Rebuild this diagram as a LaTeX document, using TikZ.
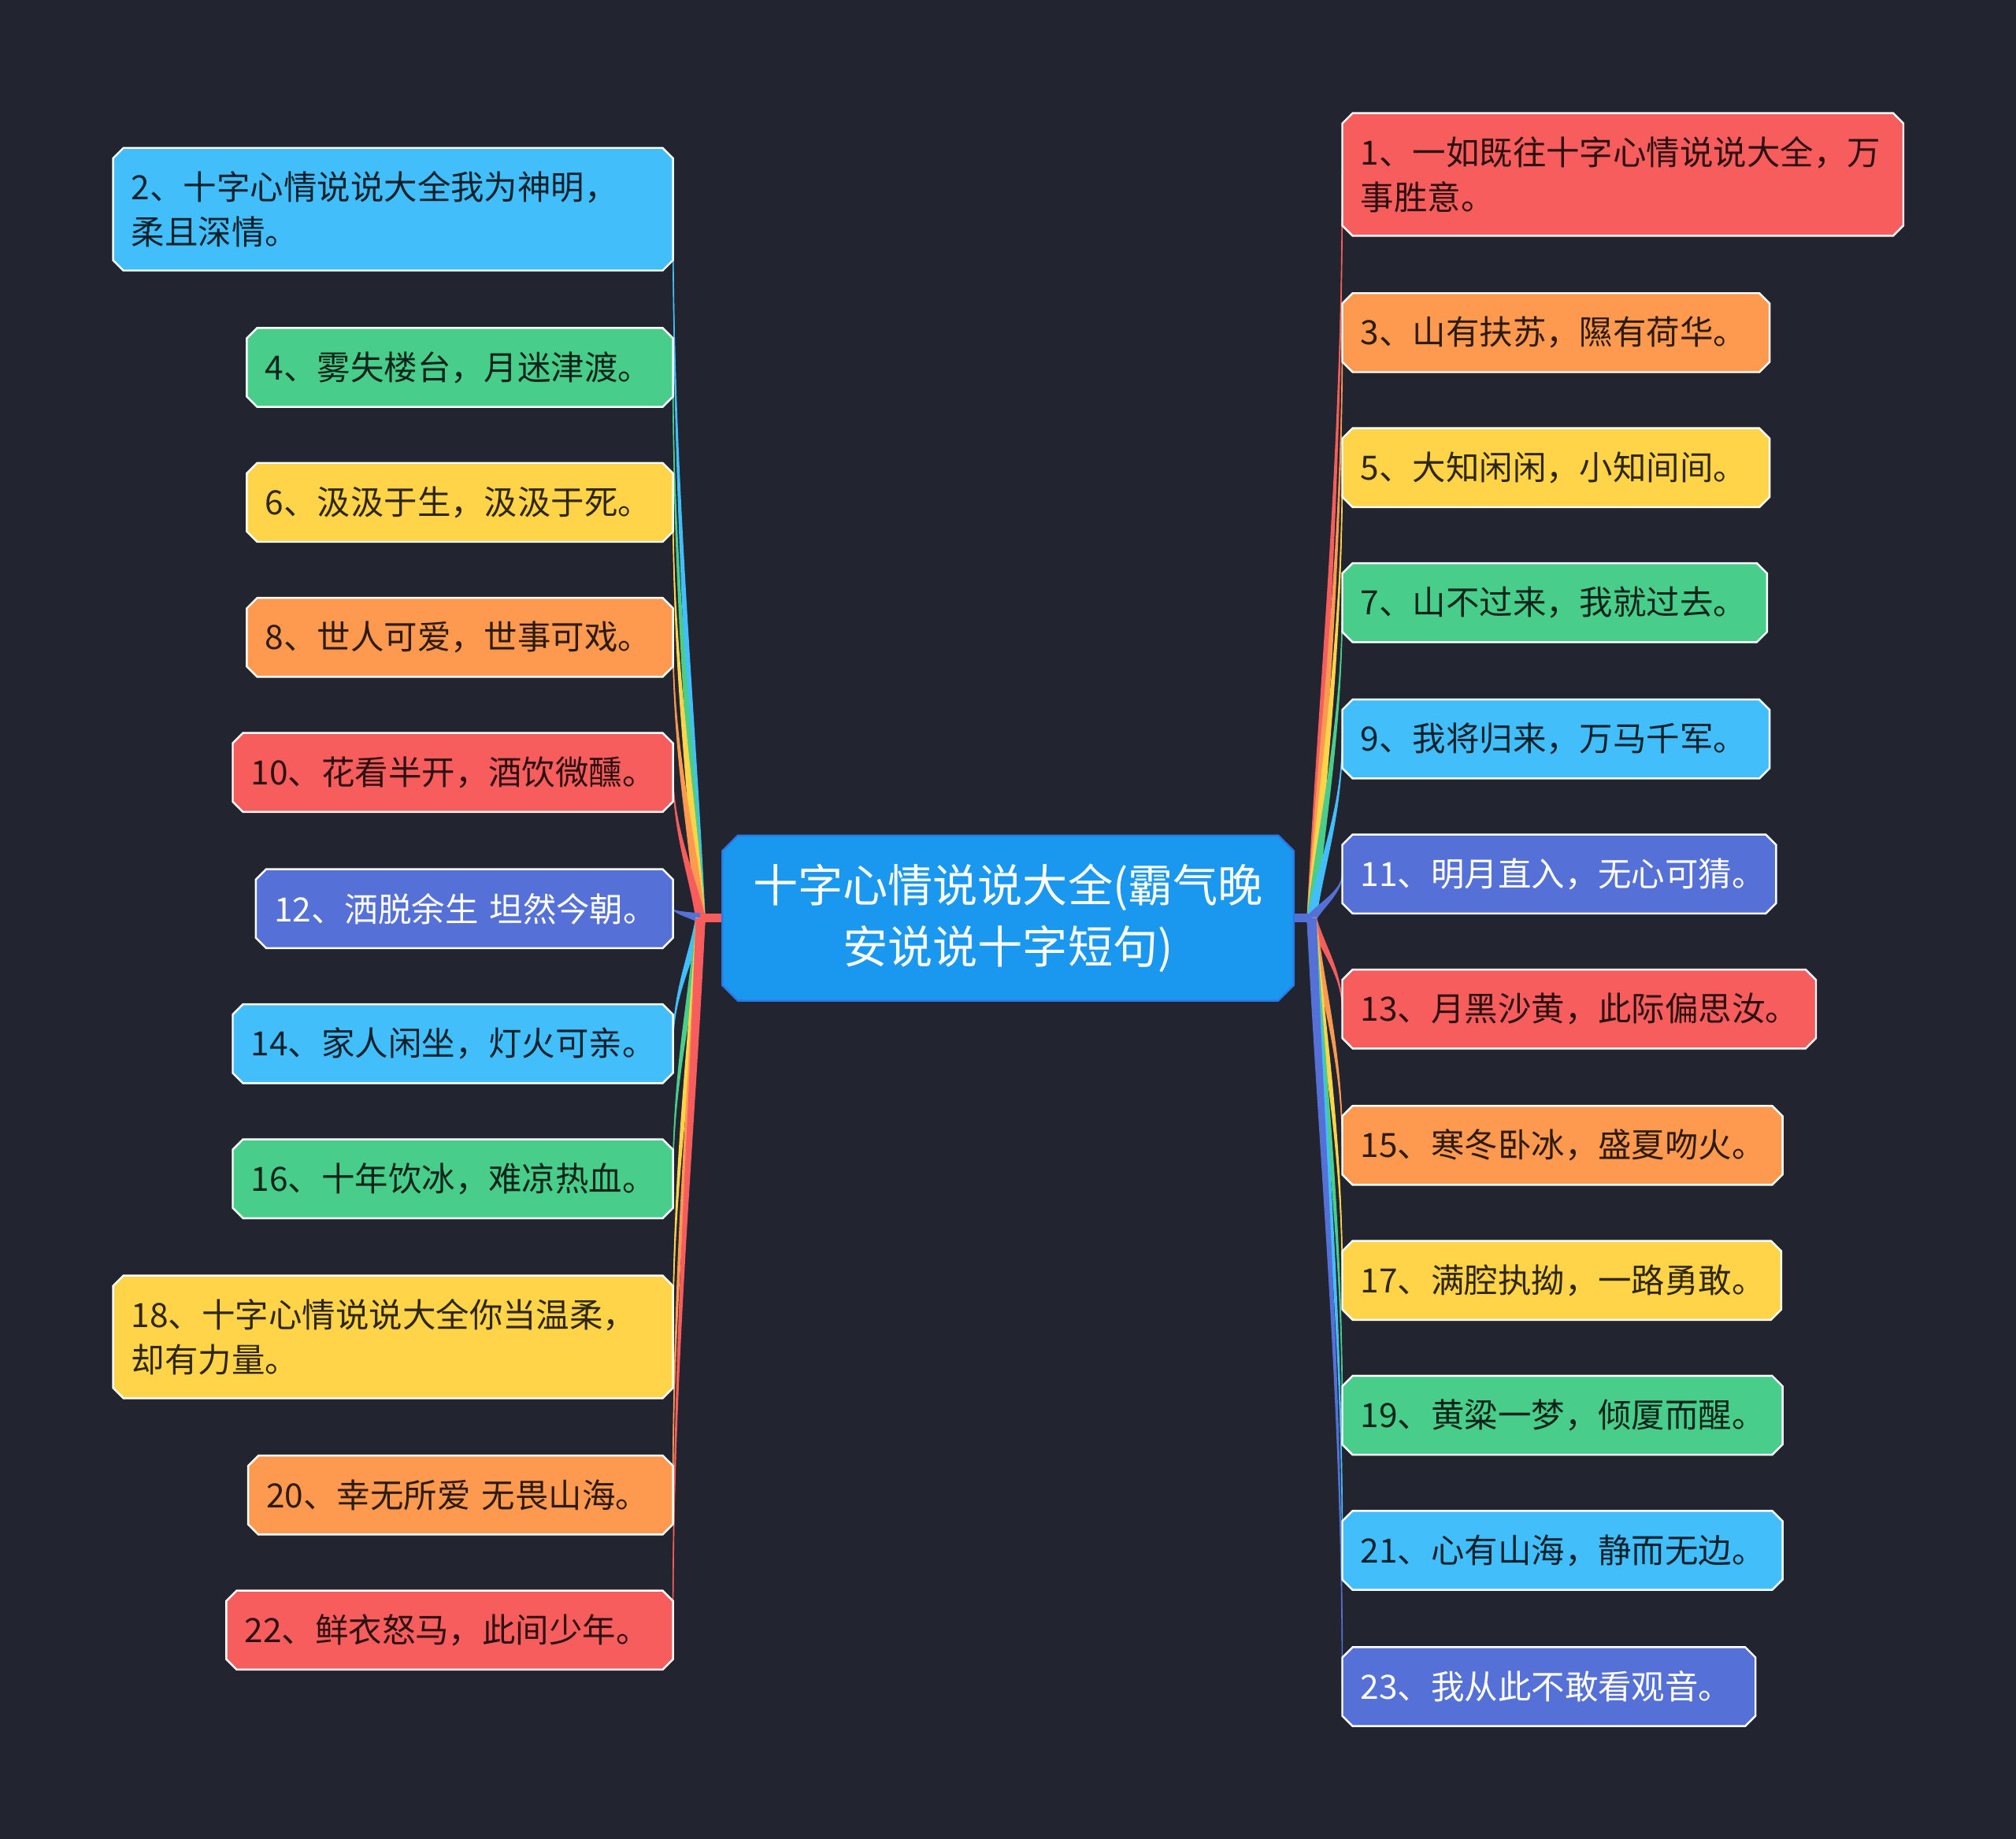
\documentclass[tikz,border=0pt]{standalone}
\usepackage{fontspec}
\setmainfont{Noto Sans CJK SC}
\usetikzlibrary{calc}
\definecolor{bgc}{HTML}{222530}
\definecolor{cred}{HTML}{F75D5D}
\definecolor{corange}{HTML}{FE9950}
\definecolor{cyellow}{HTML}{FFD449}
\definecolor{cgreen}{HTML}{48CD8B}
\definecolor{ccyan}{HTML}{42BFFA}
\definecolor{cindigo}{HTML}{5570D6}
\definecolor{cblue}{HTML}{1A98F0}
\definecolor{cborder}{HTML}{2A78E4}
\pgfdeclarelayer{bgfill}
\pgfdeclarelayer{lines}
\pgfdeclarelayer{boxes}
\pgfsetlayers{bgfill,lines,boxes,main}
\tikzset{
  leafnode/.style={rectangle, inner xsep=14pt, inner ysep=0pt, anchor=north west,
    align=left, text=black, text opacity=0.82,
    font=\fontsize{26pt}{35pt}\selectfont},
  lighttext/.style={text=white, text opacity=1},
  centernode/.style={rectangle, inner sep=0pt, minimum width=444pt, minimum height=128pt,
    align=center, text=white, font=\fontsize{35pt}{48pt}\selectfont}
}
\newcommand\octa[4]{%
  \begin{pgfonlayer}{boxes}
  \filldraw[fill=#2, draw=#3, line width=1.5pt]
    ($(#1.north west)+(#4,0pt)$) -- ($(#1.north east)+(-#4,0pt)$) --
    ($(#1.north east)+(0pt,-#4)$) -- ($(#1.south east)+(0pt,#4)$) --
    ($(#1.south east)+(-#4,0pt)$) -- ($(#1.south west)+(#4,0pt)$) --
    ($(#1.south west)+(0pt,#4)$) -- ($(#1.north west)+(0pt,-#4)$) -- cycle;
  \end{pgfonlayer}}
\newcommand\leaf[7][]{%
  \node[leafnode, minimum height=#4pt, text width=#5pt, #1] (#2) at (#3) {#7};
  \octa{#2}{#6}{white}{8pt}}
% tapered connector: #1 hub, #2 target anchor, #3 colour
\newcommand\linkto[3]{%
  \coordinate (lkA) at ($(#1)!0.3!(#2)$);
  \coordinate (lkB) at ($(#2)!0.4!(#2|-#1)$);
  \coordinate (lkP) at ($(#1)!3.8pt!90:(lkA)$);
  \coordinate (lkM) at ($(#1)!3.8pt!-90:(lkA)$);
  \coordinate (lkAP) at ($(lkA)+0.65*(lkP)-0.65*(#1)$);
  \coordinate (lkAM) at ($(lkA)+0.65*(lkM)-0.65*(#1)$);
  \coordinate (lkBP) at ($(lkB)+0.25*(lkP)-0.25*(#1)$);
  \coordinate (lkBM) at ($(lkB)+0.25*(lkM)-0.25*(#1)$);
  \fill[#3] (lkP) .. controls (lkAP) and (lkBP) .. (#2)
     .. controls (lkBM) and (lkAM) .. (lkM) -- cycle;
  \draw[#3, line width=1pt] (#1) .. controls (lkA) and (lkB) .. (#2);}
\begin{document}
\begin{tikzpicture}[x=1pt,y=-1pt]
\begin{pgfonlayer}{bgfill}
\fill[bgc] (0,0) rectangle (1568,1430);
\end{pgfonlayer}
\useasboundingbox (0,0) rectangle (1568,1430);

% center
\node[centernode] (c) at (784,714) {十字心情说说大全(霸气晚\\安说说十字短句)};
\octa{c}{cblue}{cborder}{12pt}

% left side
\leaf{n2}{88,115}{95}{407}{ccyan}{2、十字心情说说大全我为神明，\\柔且深情。}
\leaf{n4}{192,255}{61}{303}{cgreen}{4、雾失楼台，月迷津渡。}
\leaf{n6}{192,360}{61}{303}{cyellow}{6、汲汲于生，汲汲于死。}
\leaf{n8}{192,465}{61}{303}{corange}{8、世人可爱，世事可戏。}
\leaf{n10}{181,570}{61}{314}{cred}{10、花看半开，酒饮微醺。}
\leaf[lighttext]{n12}{199,676}{61}{296}{cindigo}{\mbox{12、洒脱余生 坦然今朝。}}
\leaf{n14}{181,781}{61}{314}{ccyan}{14、家人闲坐，灯火可亲。}
\leaf{n16}{181,886}{61}{314}{cgreen}{16、十年饮冰，难凉热血。}
\leaf{n18}{88,992}{95}{407}{cyellow}{18、十字心情说说大全你当温柔，\\却有力量。}
\leaf{n20}{193,1132}{61}{302}{corange}{\mbox{20、幸无所爱 无畏山海。}}
\leaf{n22}{176,1237}{61}{319}{cred}{22、鲜衣怒马，此间少年。}

% right side
\leaf{n1}{1044,88}{95}{408}{cred}{1、一如既往十字心情说说大全，万\\事胜意。}
\leaf{n3}{1044,228}{61}{304}{corange}{3、山有扶苏，隰有荷华。}
\leaf{n5}{1044,333}{61}{304}{cyellow}{5、大知闲闲，小知间间。}
\leaf{n7}{1044,438}{61}{302}{cgreen}{7、山不过来，我就过去。}
\leaf{n9}{1044,544}{61}{304}{ccyan}{9、我将归来，万马千军。}
\leaf[lighttext]{n11}{1044,649}{61}{309}{cindigo}{11、明月直入，无心可猜。}
\leaf{n13}{1044,754}{61}{340}{cred}{13、月黑沙黄，此际偏思汝。}
\leaf{n15}{1044,860}{61}{314}{corange}{15、寒冬卧冰，盛夏吻火。}
\leaf{n17}{1044,965}{61}{313}{cyellow}{17、满腔执拗，一路勇敢。}
\leaf{n19}{1044,1070}{61}{314}{cgreen}{19、黄粱一梦，倾厦而醒。}
\leaf{n21}{1044,1175}{61}{314}{ccyan}{21、心有山海，静而无边。}
\leaf[lighttext]{n23}{1044,1281}{61}{293}{cindigo}{23、我从此不敢看观音。}

\coordinate (hubL) at ($(c.west)+(-17pt,0pt)$);
\coordinate (hubR) at ($(c.east)+(14pt,0pt)$);

\begin{pgfonlayer}{lines}
\linkto{hubL}{n2.east}{ccyan}
\linkto{hubL}{n4.east}{cgreen}
\linkto{hubL}{n6.east}{cyellow}
\linkto{hubL}{n8.east}{corange}
\linkto{hubL}{n10.east}{cred}
\linkto{hubL}{n12.east}{cindigo}
\linkto{hubL}{n14.east}{ccyan}
\linkto{hubL}{n16.east}{cgreen}
\linkto{hubL}{n18.east}{cyellow}
\linkto{hubL}{n20.east}{corange}
\linkto{hubL}{n22.east}{cred}
\draw[cred, line width=7pt] (hubL) -- (c.west);

\linkto{hubR}{n1.west}{cred}
\linkto{hubR}{n3.west}{corange}
\linkto{hubR}{n5.west}{cyellow}
\linkto{hubR}{n7.west}{cgreen}
\linkto{hubR}{n9.west}{ccyan}
\linkto{hubR}{n11.west}{cindigo}
\linkto{hubR}{n13.west}{cred}
\linkto{hubR}{n15.west}{corange}
\linkto{hubR}{n17.west}{cyellow}
\linkto{hubR}{n19.west}{cgreen}
\linkto{hubR}{n21.west}{ccyan}
\linkto{hubR}{n23.west}{cindigo}
\draw[cindigo, line width=7pt] (hubR) -- (c.east);
\end{pgfonlayer}
\end{tikzpicture}
\end{document}
